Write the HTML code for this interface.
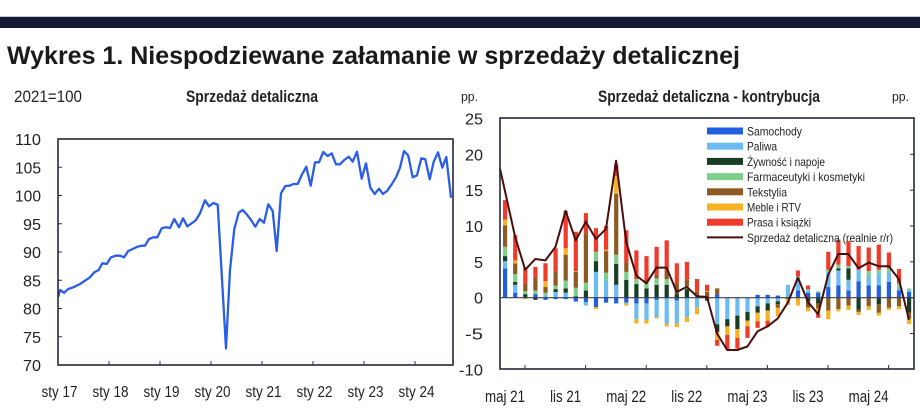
<!DOCTYPE html>
<html><head><meta charset="utf-8"><style>
html,body{margin:0;padding:0;background:#fff;}
svg{display:block;font-family:"Liberation Sans",sans-serif;}
</style></head><body>
<svg id="s" width="920" height="418" viewBox="0 0 920 418" xmlns="http://www.w3.org/2000/svg">
<rect x="0" y="16" width="920" height="1" fill="#c8c8cc"/>
<rect x="0" y="17" width="920" height="11" fill="#141a33"/>
<text x="7" y="64" font-size="25" font-weight="bold" fill="#1a1a1a" textLength="733" lengthAdjust="spacingAndGlyphs">Wykres 1. Niespodziewane załamanie w sprzedaży detalicznej</text>
<text x="14" y="102" font-size="17" fill="#222" textLength="68" lengthAdjust="spacingAndGlyphs">2021=100</text>
<text x="186" y="102" font-size="17" font-weight="bold" fill="#222" textLength="132" lengthAdjust="spacingAndGlyphs">Sprzedaż detaliczna</text>
<text x="461" y="101" font-size="13" fill="#222" textLength="17" lengthAdjust="spacingAndGlyphs">pp.</text>
<text x="598" y="102" font-size="17" font-weight="bold" fill="#222" textLength="222" lengthAdjust="spacingAndGlyphs">Sprzedaż detaliczna - kontrybucja</text>
<text x="892" y="101" font-size="13" fill="#222" textLength="17" lengthAdjust="spacingAndGlyphs">pp.</text>
<g id="L"></g>
<g id="R"></g>
</svg>
<script>
var NS="http://www.w3.org/2000/svg";
function el(p,t,a,txt){var e=document.createElementNS(NS,t);for(var k in a)e.setAttribute(k,a[k]);if(txt!==undefined)e.textContent=txt;p.appendChild(e);return e;}
// LEFT
var L=document.getElementById("L");
var yl=[110,105,100,95,90,85,80,75,70];
yl.forEach(function(v){var y=139+(110-v)/5*28.25;el(L,"text",{x:41,y:y+6,"font-size":16,"text-anchor":"end",fill:"#222",textLength:v>=100?26:18,lengthAdjust:"spacingAndGlyphs"},v);
 if(v<110&&v>70)el(L,"line",{x1:58,x2:62,y1:y,y2:y,stroke:"#333","stroke-width":1});});
var xs=["sty 17","sty 18","sty 19","sty 20","sty 21","sty 22","sty 23","sty 24"];
xs.forEach(function(s,i){var x=59.5+51*i;el(L,"text",{x:x,y:397,"font-size":16,"text-anchor":"middle",fill:"#222",textLength:36,lengthAdjust:"spacingAndGlyphs"},s);
 if(i>0)el(L,"line",{x1:58+51*i,x2:58+51*i,y1:361,y2:365,stroke:"#333","stroke-width":1});});
var lp=[[175,560],[180,540],[192,548],[205,537],[220,532],[240,522],[255,512],[270,502],[283,487],[296,480],[307,460],[320,462],[333,442],[347,437],[360,437],[372,442],[385,423],[398,417],[412,410],[425,407],[435,407],[447,387],[460,382],[472,382],[485,355],[498,352],[510,354],[523,327],[537,352],[549,325],[562,349],[575,340],[588,330],[600,310],[615,271],[627,289],[640,279],[653,284],[678,715],[690,480],[703,357],[716,308],[728,300],[740,313],[753,330],[766,350],[779,327],[792,338],[805,283],[818,303],[830,423],[843,250],[856,228],[869,227],[880,222],[893,222],[905,195],[919,170],[932,227],[945,157],[957,157],[970,126],[983,138],[995,130],[1008,163],[1020,163],[1033,150],[1046,140],[1058,155],[1071,125],[1085,206],[1098,160],[1111,233],[1124,252],[1137,236],[1149,252],[1162,242],[1175,223],[1188,202],[1200,173],[1212,123],[1225,137],[1238,202],[1251,196],[1264,145],[1276,148],[1289,208],[1301,155],[1314,127],[1327,173],[1339,141],[1353,263]];
el(L,"polyline",{points:lp.map(function(p){return (p[0]/3).toFixed(1)+","+(p[1]/3+110).toFixed(1)}).join(" "),fill:"none",stroke:"#2a5ee8","stroke-width":2.3,"stroke-linejoin":"round"});
el(L,"rect",{x:58,y:139,width:395,height:226,fill:"none",stroke:"#222a3a","stroke-width":1.6});
// RIGHT
var R=document.getElementById("R");
var Y0=297.7,U=7.17;
function yy(v){return Y0-v*U;}
[25,20,15,10,5,0,-5,-10].forEach(function(v){el(R,"text",{x:483,y:yy(v)+6,"font-size":16,"text-anchor":"end",fill:"#222",textLength:v==-10?24:(v>=10||v<0?18:9),lengthAdjust:"spacingAndGlyphs"},v);
 if(v<25&&v>-10){el(R,"line",{x1:910,x2:914,y1:yy(v),y2:yy(v),stroke:"#333","stroke-width":1});}});
var cols=["#1f5fe0","#6cbcf2","#173d24","#7fcf8c","#8c5a22","#f5b324","#f03a2a"];
var D=[
[4.1,1,.7,1.3,3,.8,2.7],[.7,1.1,.4,1.1,1.5,.4,3.5],[.1,0,.4,.4,1.1,-.2,2.2],[.5,0,-.3,.5,1.8,0,1.5],[-.3,.3,0,.4,.8,.8,2.5],
[-.2,.8,.4,.5,2,0,3.2],[-.2,.7,.6,1.1,3.6,.9,5.2],[-.5,-.1,.2,1.2,2.2,.1,5.5],[-.6,-.5,1,1.1,6.9,0,2.8],[-1.3,3.6,1.5,1.3,0,-.3,3.3],
[-.7,2.5,0,1,3,.2,3.3],[-.8,1.8,2.9,1.3,8.5,2.5,1.6],[-.7,-.1,2.5,1.1,1.3,-.3,4.5],[-.8,-2.2,1.9,.7,0,-.6,4],[-.8,-2.3,1.3,.8,.3,-.5,3.4],
[-.3,-2.4,1.8,.9,.5,-.2,3.9],[0,-3.6,1.8,.8,1.2,-.4,4.2],[-.4,-3.2,.5,0,1.5,-.5,2.8],[0,-2.7,1.2,.4,.9,-.7,2.5],[0,-1.4,0,.3,.6,-.9,1.7],
[0,0,-.4,0,.8,.1,.9],[.5,-3.7,-1.1,0,.8,-1.1,-.8],[0,-3,-1,0,0,-1.2,-2],[0,-2.5,-1.9,0,0,-1.2,-1.5],[0,-2,-1.2,0,0,-.8,-1.6],
[.4,-1.2,-.9,0,0,-1.2,-.9],[.4,-.8,-1,0,0,-1.4,-.8],[.3,-.5,-.4,0,-.5,-1.2,0],[0,1.8,0,0,-.2,-.8,0],[1,1.8,0,.2,0,-1.1,.8],
[.7,.3,-.5,.2,-.9,-.5,.5],[.7,0,-.8,.2,-.7,-.8,-.5],[1.5,2.1,0,.3,-1.8,-1.2,2.5],[1.7,2.1,.3,.5,-1.6,-.3,3.5],[1,1.5,1.6,.3,-1.1,-.6,3.5],
[2.3,1.6,-1.7,0,-.3,-.4,3.3],[1.7,1.2,0,.8,-1.2,-.5,3.3],[1.7,1.7,-.9,.5,-1.2,-.4,3.5],[2.2,1.3,-.1,.6,-1.3,-.3,2.2],[1,.5,0,.5,-1.2,-.4,2],
[.8,.3,-2.1,.2,-.8,-.8,0]];
D.forEach(function(b,i){var x=505+10.1*i-2,pos=0,neg=0;
 b.forEach(function(v,k){if(v>0){el(R,"rect",{x:x,y:yy(pos+v),width:4.2,height:v*U,fill:cols[k]});pos+=v;}
 else if(v<0){el(R,"rect",{x:x,y:yy(neg),width:4.2,height:-v*U,fill:cols[k]});neg+=v;}});});
el(R,"line",{x1:500,x2:914,y1:Y0,y2:Y0,stroke:"#3a4050","stroke-width":1.2});
var LV=[8.5,3.9,5.4,5.2,7.1,12.1,8.0,10.6,8.2,9.6,19.1,7.8,3.1,2.0,4.2,4.2,0.8,1.5,0.2,0.1,-5,-7.3,-7.3,-6.8,-4.7,-4,-2.9,-0.7,2.8,-0.6,-2.3,3.2,6.1,6.1,4.1,4.9,4.4,4.4,2.6,-3.1];
var pts=["500,"+yy(18).toFixed(1)];LV.forEach(function(v,j){pts.push((505+10.1*(j+1)).toFixed(1)+","+yy(v).toFixed(1));});
el(R,"polyline",{points:pts.join(" "),fill:"none",stroke:"#4a0d0d","stroke-width":2,"stroke-linejoin":"round"});
// legend
el(R,"rect",{x:703,y:124,width:200,height:112,fill:"#fff"});
var names=["Samochody","Paliwa","Żywność i napoje","Farmaceutyki i kosmetyki","Tekstylia","Meble i RTV","Prasa i książki","Sprzedaż detaliczna (realnie r/r)"];
var tl=[55,30,78,118,40,54,64,146];
names.forEach(function(n,k){var y=131+15.2*k;
 if(k<7)el(R,"rect",{x:707,y:y-3.5,width:36,height:7,fill:cols[k]});else el(R,"line",{x1:707,x2:743,y1:y,y2:y,stroke:"#4a0d0d","stroke-width":2});
 el(R,"text",{x:747,y:y+4.5,"font-size":12,fill:"#222",textLength:tl[k],lengthAdjust:"spacingAndGlyphs"},n);});
var xl=["maj 21","lis 21","maj 22","lis 22","maj 23","lis 23","maj 24"];
xl.forEach(function(s,i){var x=505+60.6*i;el(R,"text",{x:x,y:402,"font-size":17,"text-anchor":"middle",fill:"#222",textLength:s.indexOf("maj")==0?40:31,lengthAdjust:"spacingAndGlyphs"},s);
 el(R,"line",{x1:x+20,x2:x+20,y1:365,y2:369,stroke:"#333","stroke-width":1});});
el(R,"rect",{x:500,y:118,width:414,height:251,fill:"none",stroke:"#222a3a","stroke-width":1.6});
</script>
</body></html>
